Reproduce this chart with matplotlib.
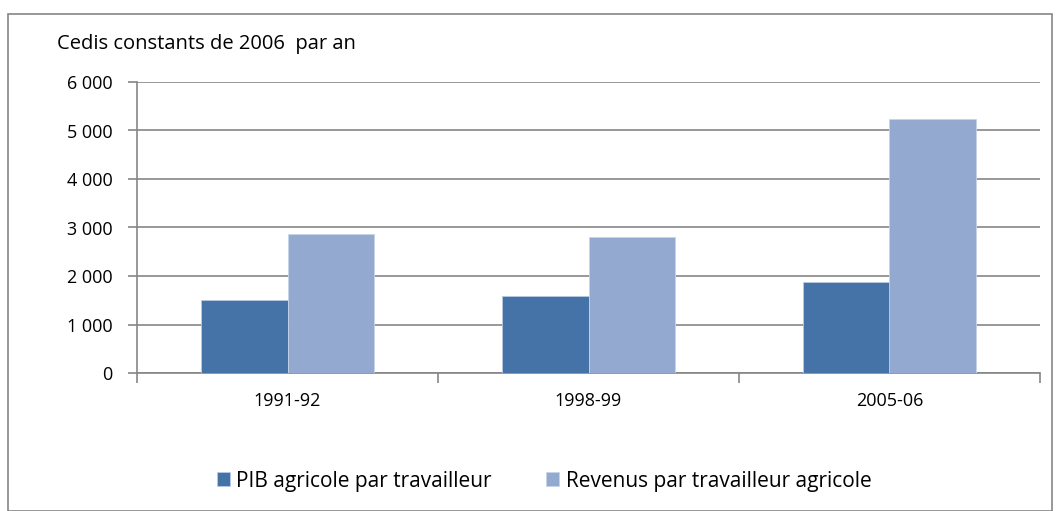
import numpy as np
import matplotlib.pyplot as plt
from matplotlib.patches import Rectangle

periodes = ['1991-92', '1998-99', '2005-06']
pib_travailleur = [1500, 1590, 1870]
revenus_travailleur = [2860, 2800, 5240]
y_ticks = [0, 1000, 2000, 3000, 4000, 5000, 6000]
y_labels = ['0', '1 000', '2 000', '3 000', '4 000', '5 000', '6 000']

plt.rcParams['font.family'] = ['Open Sans', 'DejaVu Sans']
fs_tick = 13
fs_title = 14.5
fs_leg = 15

fig = plt.figure(figsize=(10.62, 5.11), dpi=100)
ax = fig.add_axes([137 / 1062, 1 - 373 / 511, (1040 - 137) / 1062, (373 - 82) / 511])

x = np.arange(len(periodes))
w = 0.286
ax.bar(x - w / 2, pib_travailleur, w, color='#4573a7', edgecolor='#b9cbe3', linewidth=0.6,
       label='PIB agricole par travailleur', zorder=3)
ax.bar(x + w / 2, revenus_travailleur, w, color='#94a9d0', edgecolor='#c6d3ea', linewidth=0.6,
       label='Revenus par travailleur agricole', zorder=3)

ax.set_xlim(-0.5, 2.5)
ax.set_ylim(0, 6000)
ax.set_yticks(y_ticks)
ax.set_yticklabels(y_labels)
ax.set_xticks([-0.5, 0.5, 1.5, 2.5])
ax.set_xticklabels([])
ax.set_xticks(x, minor=True)
ax.set_xticklabels(periodes, minor=True)
ax.tick_params(axis='x', which='minor', length=0, pad=14, labelsize=fs_tick)
ax.tick_params(axis='x', which='major', length=7, color='#868686', width=1.2)
ax.tick_params(axis='y', length=6.5, color='#868686', width=1.2, labelsize=fs_tick, pad=11)

ax.grid(axis='y', color='#868686', linewidth=1.2, zorder=0)
for s in ['top', 'right']:
    ax.spines[s].set_visible(False)
ax.spines['left'].set_color('#868686')
ax.spines['bottom'].set_color('#868686')
ax.spines['left'].set_linewidth(1.2)
ax.spines['bottom'].set_linewidth(1.2)

fig.text(57 / 1062, 1 - 44 / 511, 'Cedis constants de 2006  par an', fontsize=fs_title, va='center')

fig.legend(loc='center', bbox_to_anchor=(544 / 1062, 1 - 481 / 511), ncol=2, frameon=False,
           fontsize=fs_leg, handlelength=0.62, handleheight=0.62, columnspacing=2.65,
           handletextpad=0.3)

fig.patches.append(Rectangle((8 / 1062, 0), (1052 - 8) / 1062, 1 - 14 / 511,
                             transform=fig.transFigure, fill=False, edgecolor='#868686',
                             linewidth=1.2))

fig.savefig('out.png', dpi=100)
